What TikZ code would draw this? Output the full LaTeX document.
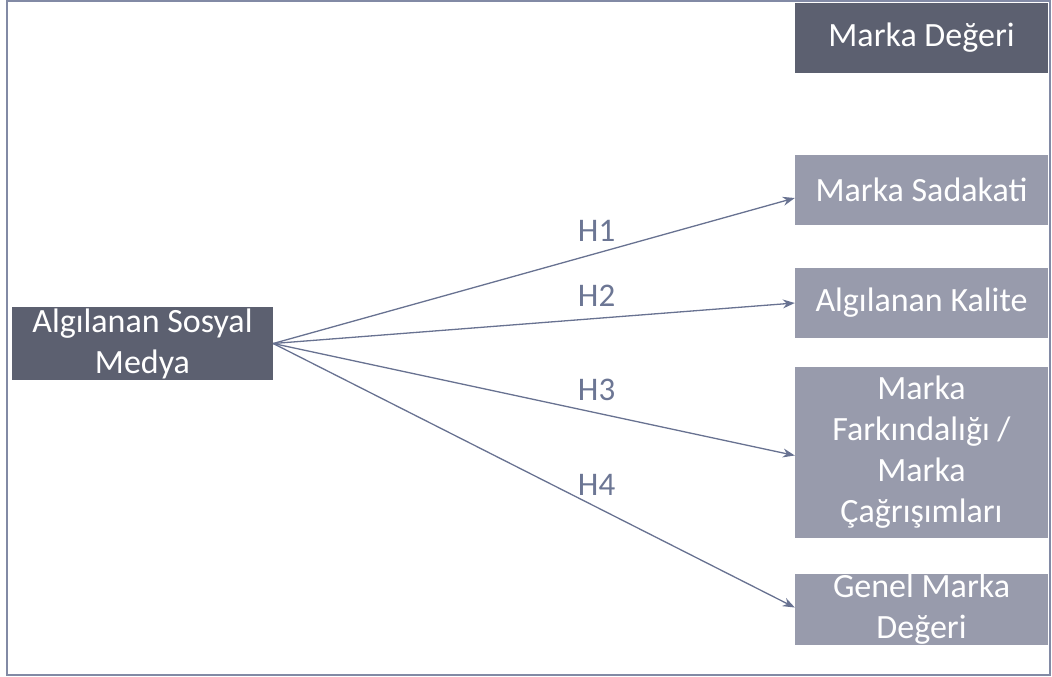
\documentclass[tikz,border=0pt]{standalone}
\usepackage{fontspec}
\setmainfont{Carlito}
\usepackage{xcolor}
\definecolor{framec}{RGB}{130, 138, 165}
\definecolor{darkbox}{RGB}{92, 96, 112}
\definecolor{lightbox}{RGB}{152, 155, 172}
\definecolor{linec}{RGB}{104, 114, 145}
\definecolor{labelc}{RGB}{108, 118, 148}
\usepackage{tikz}
\usetikzlibrary{arrows.meta, positioning}
\tikzstyle{block} = [rectangle, fill=darkbox, text=white, align=center, inner sep=0pt, font=\fontsize{34}{41}\selectfont]
\tikzstyle{factor} = [block, fill=lightbox, minimum width=253pt, minimum height=70pt]
\tikzstyle{arrow} = [line width=1.3pt, draw=linec, -{Stealth[length=12pt, width=9pt]}]
\tikzstyle{hyp} = [text=labelc, font=\fontsize{33}{40}\selectfont, above=8pt]

\begin{document}
\begin{tikzpicture}[x=1pt, y=-1pt]
    \useasboundingbox (0,0) rectangle (1052,677);
    \draw[framec, line width=2.5pt] (7,1) rectangle (1050,675);

    \node[block, minimum width=253pt, minimum height=70pt] (value) at (921.5,38) {Marka Değeri};
    \node[factor] (loyalty) at (921.5,190) {Marka Sadakati};
    \node[factor] (quality) at (921.5,303) {Algılanan Kalite};
    \node[factor, minimum height=171pt] (awareness) at (921.5,452.5) {Marka\\Farkındalığı /\\Marka\\Çağrışımları};
    \node[factor, minimum height=71pt] (overall) at (921.5,609.5) {Genel Marka\\Değeri};
    \node[block, minimum width=261pt, minimum height=73pt] (media) at (142.5,343.5) {Algılanan Sosyal\\Medya};

    \draw[arrow] (media.east) -- node[hyp, pos=0.62] {H1} ([yshift=-8pt]loyalty.west);
    \draw[arrow] (media.east) -- node[hyp, pos=0.62] {H2} (quality.west);
    \draw[arrow] (media.east) -- node[hyp, pos=0.62] {H3} ([yshift=-3pt]awareness.west);
    \draw[arrow] (media.east) -- node[hyp, pos=0.62] {H4} ([yshift=2pt]overall.west);
\end{tikzpicture}
\end{document}
